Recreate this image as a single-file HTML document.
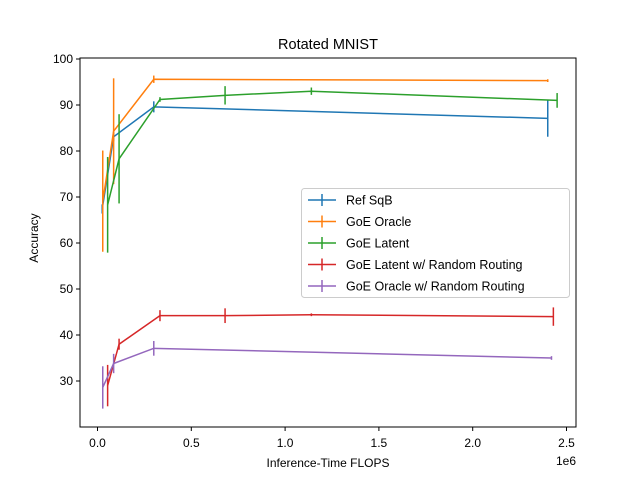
<!DOCTYPE html>
<html><head><meta charset="utf-8"><style>body{margin:0;background:#fff}svg{font-family:"Liberation Sans","DejaVu Sans",sans-serif}</style></head>
<body>
<svg id="chart" width="640" height="480"></svg>
<script>
const xTicks=[0,0.5,1,1.5,2,2.5];
const yTicks=[30,40,50,60,70,80,90,100];
const seriesNames=["Ref SqB","GoE Oracle","GoE Latent","GoE Latent w/ Random Routing","GoE Oracle w/ Random Routing"];
const colors=["#1f77b4","#ff7f0e","#2ca02c","#d62728","#9467bd"];
const refX=[0.025,0.086,0.30,2.40];
const refY=[67.4,83.1,89.6,87.1];
const refE=[1,1,1.2,4];
const oracleX=[0.028,0.086,0.30,2.40];
const oracleY=[69.1,84.3,95.6,95.3];
const oracleE=[11,11.5,0.8,0.3];
const latentX=[0.054,0.115,0.333,0.68,1.14,2.45];
const latentY=[68.3,78.3,91.2,92.1,93.0,91.0];
const latentE=[10.4,9.7,0.5,2,0.8,1.6];
const latRandX=[0.054,0.115,0.333,0.68,1.14,2.43];
const latRandY=[29.0,38.0,44.2,44.2,44.4,44.0];
const latRandE=[4.5,1.2,1.2,1.6,0.3,2];
const orRandX=[0.028,0.086,0.30,2.42];
const orRandY=[28.6,33.8,37.1,35.0];
const orRandE=[4.6,2.1,1.6,0.4];
const allX=[refX,oracleX,latentX,latRandX,orRandX];
const allY=[refY,oracleY,latentY,latRandY,orRandY];
const allE=[refE,oracleE,latentE,latRandE,orRandE];
const L=80,R=576,T=58,B=427;
const sx=v=>97.5+v*187.6;
const sy=v=>59+(100-v)*4.6;
const svg=document.getElementById('chart');
const NS="http://www.w3.org/2000/svg";
function mk(t,a,p){const e=document.createElementNS(NS,t);for(const k in a)e.setAttribute(k,a[k]);(p||svg).appendChild(e);return e;}
let e;
e=mk('rect',{x:L,y:T,width:R-L,height:B-T,fill:'none',stroke:'#000','stroke-width':1});


xTicks.forEach(v=>{const x=sx(v);
 e=mk('line',{x1:x,x2:x,y1:B,y2:B+4,stroke:'#000'});
 
 
 e=mk('text',{x:x,y:B+20,'text-anchor':'middle','font-size':12});e.textContent=v.toFixed(1);
 
 });
yTicks.forEach(v=>{const y=sy(v);
 e=mk('line',{x1:L-4,x2:L,y1:y,y2:y,stroke:'#000'});
 
 
 e=mk('text',{x:L-7,y:y+4,'text-anchor':'end','font-size':12});e.textContent=v;
 
 });
e=mk('text',{x:576,y:465,'text-anchor':'end','font-size':12});e.textContent='1e6';


e=mk('text',{x:328,y:467,'text-anchor':'middle','font-size':12});e.textContent='Inference-Time FLOPS';


e=mk('text',{x:35,y:238,'text-anchor':'middle','font-size':12,transform:'rotate(-90 35 238)',dy:3});e.textContent='Accuracy';


e=mk('text',{x:328,y:49,'text-anchor':'middle','font-size':14.5});e.textContent='Rotated MNIST';


allX.forEach((xs,i)=>{
 const g=mk('g',{});
 
 
 const pts=xs.map((x,j)=>sx(x)+','+sy(allY[i][j])).join(' ');
 const pl=mk('polyline',{points:pts,fill:'none',stroke:colors[i],'stroke-width':1.5},g);
 
 
 xs.forEach((x,j)=>{const y=allY[i][j],er=allE[i][j];
  const ln=mk('line',{x1:sx(x),x2:sx(x),y1:sy(y-er),y2:sy(y+er),stroke:colors[i],'stroke-width':1.5},g);
  
  });
});
const lg=mk('g',{});


mk('rect',{x:301.5,y:188.5,width:268,height:109,rx:3,fill:'#fff','fill-opacity':0.8,stroke:'#ccc'},lg);
seriesNames.forEach((n,i)=>{const y=200+i*21.5;
 const le=mk('g',{},lg);
 
 
 mk('line',{x1:308,x2:336,y1:y,y2:y,stroke:colors[i],'stroke-width':1.5},le);
 mk('line',{x1:322,x2:322,y1:y-6,y2:y+6,stroke:colors[i],'stroke-width':1.5},le);
 const t=mk('text',{x:346,y:y+4.5,'font-size':12.5},le);t.textContent=n;});
</script>
</body></html>
